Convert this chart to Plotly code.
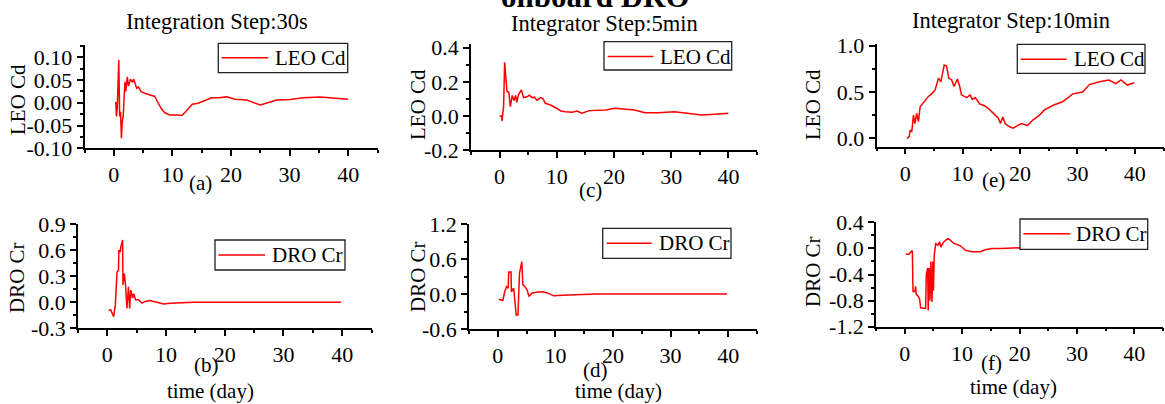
import plotly.graph_objects as go

W, H = 1165, 404

# ---------------- data ----------------
# (a) Integration Step:30s, LEO Cd
a_t = [0.2, 0.35, 0.45, 0.6, 0.85, 1.0, 1.15, 1.3, 1.45, 1.6, 1.9, 2.05, 2.3, 2.5, 2.85, 3.2, 3.4,
       3.9, 4.2, 4.7, 5.3, 5.9, 6.4, 7.0, 7.6, 8.2, 8.7, 9.6, 10.7, 11.6, 12.1, 12.7, 13.4, 14.4,
       15.6, 16.7, 17.9, 19.3, 20.7, 22.7, 25.0, 26.1, 27.8, 30.1, 32.4, 35.2, 37.5, 40.0]
a_cd = [0.0, 0.0, -0.03, -0.01, 0.094, -0.03, -0.02, -0.078, -0.04, -0.03, 0.046, 0.025, 0.057,
        0.037, 0.052, 0.045, 0.052, 0.032, 0.035, 0.024, 0.021, 0.019, 0.017, 0.014, -0.001, -0.015,
        -0.022, -0.027, -0.027, -0.028, -0.022, -0.012, -0.003, -0.001, 0.006, 0.011, 0.011, 0.013,
        0.008, 0.006, -0.005, 0.0, 0.006, 0.007, 0.011, 0.013, 0.011, 0.008]

# (b) Integration Step:30s, DRO Cr
b_t = [0.2, 0.6, 1.07, 1.36, 1.65, 1.9, 1.95, 2.2, 2.3, 2.6, 2.65, 2.9, 3.1, 3.33, 3.6, 3.8, 4.0,
       4.3, 4.5, 4.8, 5.3, 5.9, 6.4, 7.3, 7.9, 8.7, 9.6, 10.7, 12.4, 14.7, 20.0, 25.0, 30.0, 35.0, 39.8]
b_cr = [-0.089, -0.09, -0.166, -0.03, 0.35, 0.37, 0.6, 0.58, 0.64, 0.72, 0.2, 0.33, 0.2, -0.07,
        0.18, -0.07, 0.14, 0.05, 0.1, 0.03, 0.03, -0.01, 0.01, 0.02, 0.01, -0.005, -0.02, -0.01,
        -0.005, 0.0, 0.002, 0.0, 0.001, 0.0, 0.0]

# (c) Integrator Step:5min, LEO Cd
c_t = [0.0, 0.35, 0.42, 0.7, 0.88, 1.3, 1.6, 1.88, 2.2, 2.5, 2.8, 3.0, 3.3, 3.8, 4.2, 4.8, 5.2, 5.7,
       6.1, 6.5, 7.2, 7.6, 8.0, 8.9, 9.8, 10.7, 11.5, 12.7, 13.5, 14.4, 15.7, 17.4, 18.6, 20.1, 22.1,
       23.6, 25.4, 27.7, 30.6, 32.4, 35.3, 37.6, 40.0]
c_cd = [0.0, 0.0, -0.03, 0.054, 0.314, 0.142, 0.14, 0.054, 0.12, 0.09, 0.12, 0.08, 0.124, 0.152,
        0.107, 0.112, 0.122, 0.107, 0.11, 0.092, 0.107, 0.10, 0.074, 0.064, 0.048, 0.029, 0.025,
        0.022, 0.029, 0.016, 0.031, 0.031, 0.035, 0.045, 0.04, 0.035, 0.019, 0.019, 0.025, 0.016,
        0.005, 0.01, 0.015]

# (d) Integrator Step:5min, DRO Cr
d_t = [0.17, 0.87, 1.2, 1.5, 1.8, 1.9, 2.3, 2.35, 2.75, 2.9, 3.2, 3.5, 3.77, 4.17, 4.35, 4.7, 5.1,
       5.4, 5.97, 6.8, 7.7, 8.6, 9.7, 11.2, 13.5, 17.0, 22.0, 28.0, 34.0, 39.8]
d_cr = [-0.09, -0.11, 0.04, 0.13, 0.1, 0.38, 0.38, 0.04, 0.1, -0.08, -0.36, -0.36, 0.36, 0.56, 0.16,
        0.13, 0.07, -0.04, 0.02, 0.03, 0.04, 0.02, -0.03, -0.02, -0.01, 0.0, 0.0, 0.005, 0.0, 0.0]

# (e) Integrator Step:10min, LEO Cd
e_t = [0.3, 0.7, 0.87, 1.15, 1.44, 1.7, 2.0, 2.3, 2.6, 3.2, 3.75, 4.0, 4.6, 5.2, 5.8, 6.2, 6.8, 7.2,
       7.6, 8.1, 8.5, 9.1, 9.5, 9.8, 10.7, 11.3, 11.7, 12.2, 13.0, 13.9, 14.7, 15.6, 16.2, 16.6, 17.0,
       17.4, 18.2, 18.8, 19.7, 20.2, 21.3, 22.3, 23.4, 24.3, 25.9, 27.4, 29.2, 30.9, 32.1, 33.8,
       35.5, 36.7, 37.6, 38.7, 39.9]
e_cd = [0.0, 0.02, 0.09, 0.07, 0.25, 0.16, 0.27, 0.18, 0.34, 0.39, 0.43, 0.45, 0.48, 0.52, 0.65,
        0.61, 0.79, 0.78, 0.65, 0.63, 0.56, 0.64, 0.56, 0.47, 0.44, 0.47, 0.42, 0.44, 0.37, 0.35,
        0.31, 0.25, 0.22, 0.16, 0.23, 0.16, 0.125, 0.11, 0.14, 0.16, 0.14, 0.2, 0.25, 0.31, 0.36,
        0.395, 0.48, 0.50, 0.58, 0.61, 0.63, 0.59, 0.63, 0.575, 0.60]

# (f) Integrator Step:10min, DRO Cr
f_t = [0.17, 0.75, 1.0, 1.33, 1.45, 1.8, 1.9, 2.0, 2.4, 2.6, 2.78, 3.65, 3.76, 4.0, 4.1, 4.25, 4.4,
       4.55, 4.75, 4.9, 5.0, 5.15, 5.4, 5.8, 6.1, 6.3, 6.8, 7.5, 7.9, 8.5, 9.7, 10.6, 11.7, 13.2,
       14.0, 15.2, 16.9, 20.0, 25.0, 30.0, 35.0, 40.0]
f_cr = [-0.09, -0.09, -0.06, -0.035, -0.66, -0.66, -0.58, -0.7, -0.74, -0.78, -0.91, -0.92, -0.41,
        -0.3, -0.95, -0.3, -0.8, -0.2, -0.82, -0.2, -0.65, -0.1, 0.07, 0.05, 0.1, 0.02, 0.1, 0.15,
        0.13, 0.08, 0.04, -0.03, -0.05, -0.05, -0.02, 0.0, 0.0, 0.01, 0.0, 0.01, 0.0, 0.0]

x_ticks = [0, 10, 20, 30, 40]
x_tick_text = ["0", "10", "20", "30", "40"]
x_minor = [-5, 5, 15, 25, 35, 45]

col_titles = ["Integration Step:30s", "Integrator Step:5min", "Integrator Step:10min"]
panel_labels = ["(a)", "(b)", "(c)", "(d)", "(e)", "(f)"]

# ---------------- layout helpers ----------------
FONT = "Liberation Serif"
RED = "#ff0000"


def px_x(v):
    return v / W


def px_y(v):
    return 1 - v / H


panels = [
    dict(t=a_t, v=a_cd, name="LEO Cd", xp=(84.5, 377.5), yp=(45, 148.3), yr=[-0.1, 0.127],
         yt=[-0.10, -0.05, 0.0, 0.05, 0.10], ytt=["-0.10", "-0.05", "0.00", "0.05", "0.10"],
         ym=[-0.075, -0.025, 0.025, 0.075, 0.125],
         box=(218.3, 43.3, 347.7, 72.7), ln=(221.7, 268.3, 57.8), tx=273.3),
    dict(t=b_t, v=b_cr, name="DRO Cr", xp=(78, 371.5), yp=(224.3, 328.3), yr=[-0.3, 0.9],
         yt=[-0.3, 0.0, 0.3, 0.6, 0.9], ytt=["-0.3", "0.0", "0.3", "0.6", "0.9"],
         ym=[-0.15, 0.15, 0.45, 0.75],
         box=(215, 240, 345, 270), ln=(218.3, 265, 255), tx=270),
    dict(t=c_t, v=c_cd, name="LEO Cd", xp=(471, 757), yp=(44.3, 150), yr=[-0.2, 0.42],
         yt=[-0.2, 0.0, 0.2, 0.4], ytt=["-0.2", "0.0", "0.2", "0.4"],
         ym=[-0.1, 0.1, 0.3],
         box=(604, 41.7, 731.7, 70), ln=(607.7, 653.3, 56.5), tx=658.3),
    dict(t=d_t, v=d_cr, name="DRO Cr", xp=(469, 757), yp=(224.3, 329), yr=[-0.6, 1.2],
         yt=[-0.6, 0.0, 0.6, 1.2], ytt=["-0.6", "0.0", "0.6", "1.2"],
         ym=[-0.3, 0.3, 0.9],
         box=(602.7, 228.3, 731, 258.3), ln=(606.7, 651.7, 243.3), tx=657.3),
    dict(t=e_t, v=e_cd, name="LEO Cd", xp=(876.5, 1163.5), yp=(44.3, 146.7), yr=[-0.09, 1.015],
         yt=[0.0, 0.5, 1.0], ytt=["0.0", "0.5", "1.0"],
         ym=[0.25, 0.75],
         box=(1017.3, 44.3, 1145, 73.3), ln=(1020.7, 1066.7, 59.3), tx=1071.7),
    dict(t=f_t, v=f_cr, name="DRO Cr", xp=(876, 1163), yp=(222.3, 326.7), yr=[-1.2, 0.4],
         yt=[-1.2, -0.8, -0.4, 0.0, 0.4], ytt=["-1.2", "-0.8", "-0.4", "0.0", "0.4"],
         ym=[-1.0, -0.6, -0.2, 0.2],
         box=(1020, 219, 1147.7, 249.3), ln=(1023.3, 1070, 233.8), tx=1074),
]

fig = go.Figure()
layout = dict(
    width=W, height=H,
    margin=dict(l=0, r=0, t=0, b=0, autoexpand=False),
    paper_bgcolor="white", plot_bgcolor="white",
    font=dict(family=FONT, size=21, color="black"),
    showlegend=False,
)

annotations = []
shapes = []


def ann(text, x, y, size=21, angle=0, xanchor="center"):
    annotations.append(dict(text=text, x=px_x(x), y=px_y(y), xref="paper", yref="paper",
                            showarrow=False, xanchor=xanchor, yanchor="middle",
                            textangle=angle,
                            font=dict(family=FONT, size=size, color="black")))


for i, p in enumerate(panels):
    k = i + 1
    xa = "x" if k == 1 else f"x{k}"
    ya = "y" if k == 1 else f"y{k}"
    fig.add_trace(go.Scatter(x=p["t"], y=p["v"], mode="lines", name=p["name"],
                             line=dict(color=RED, width=1.5), xaxis=xa, yaxis=ya))
    axis_common = dict(showline=True, linecolor="black", linewidth=1.5, mirror=False,
                       ticks="outside", ticklen=6, tickwidth=1.5, tickcolor="black",
                       showgrid=False, zeroline=False, automargin=False,
                       tickfont=dict(family=FONT, size=22, color="black"))
    layout["xaxis" if k == 1 else f"xaxis{k}"] = dict(
        domain=[px_x(p["xp"][0]), px_x(p["xp"][1])], range=[-5, 45], anchor=ya,
        tickmode="array", tickvals=x_ticks, ticktext=x_tick_text,
        minor=dict(tickmode="array", tickvals=x_minor, ticks="outside", ticklen=3,
                   tickwidth=1.5, tickcolor="black"),
        **axis_common)
    layout["yaxis" if k == 1 else f"yaxis{k}"] = dict(
        domain=[px_y(p["yp"][1]), px_y(p["yp"][0])], range=p["yr"], anchor=xa,
        tickmode="array", tickvals=p["yt"], ticktext=p["ytt"],
        minor=dict(tickmode="array", tickvals=p["ym"], ticks="outside", ticklen=3,
                   tickwidth=1.5, tickcolor="black"),
        **axis_common)
    # legend box (drawn like the reference's boxed legend)
    x0, y0, x1, y1 = p["box"]
    shapes.append(dict(type="rect", xref="paper", yref="paper",
                       x0=px_x(x0), x1=px_x(x1), y0=px_y(y1), y1=px_y(y0),
                       fillcolor="white", line=dict(color="#222", width=1.3), layer="above"))
    lx0, lx1, ly = p["ln"]
    shapes.append(dict(type="line", xref="paper", yref="paper",
                       x0=px_x(lx0), x1=px_x(lx1), y0=px_y(ly), y1=px_y(ly),
                       line=dict(color=RED, width=1.5), layer="above"))
    ann(p["name"], p["tx"], ly, xanchor="left")

# column titles
ann(col_titles[0], 217, 21, size=22.5)
ann(col_titles[1], 605, 23, size=22.5)
ann(col_titles[2], 1011, 20, size=22.5)
# big partially cut figure title
ann("<b>onboard DRO</b>", 595, -3, size=31)
# y axis titles
ann("LEO Cd", 18, 100, angle=-90)
ann("DRO Cr", 17, 278, angle=-90)
ann("LEO Cd", 418, 105, angle=-90)
ann("DRO Cr", 418, 277, angle=-90)
ann("LEO Cd", 813, 105, angle=-90)
ann("DRO Cr", 813, 272, angle=-90)
# panel labels
ann(panel_labels[0], 200, 183)
ann(panel_labels[1], 206, 365)
ann(panel_labels[2], 590, 190)
ann(panel_labels[3], 595, 370)
ann(panel_labels[4], 993, 180)
ann(panel_labels[5], 991, 363)
# x axis titles
ann("time (day)", 210, 391)
ann("time (day)", 618, 391)
ann("time (day)", 1013, 387)

layout["annotations"] = annotations
layout["shapes"] = shapes
fig.update_layout(**layout)
fig.write_html("out.html")
